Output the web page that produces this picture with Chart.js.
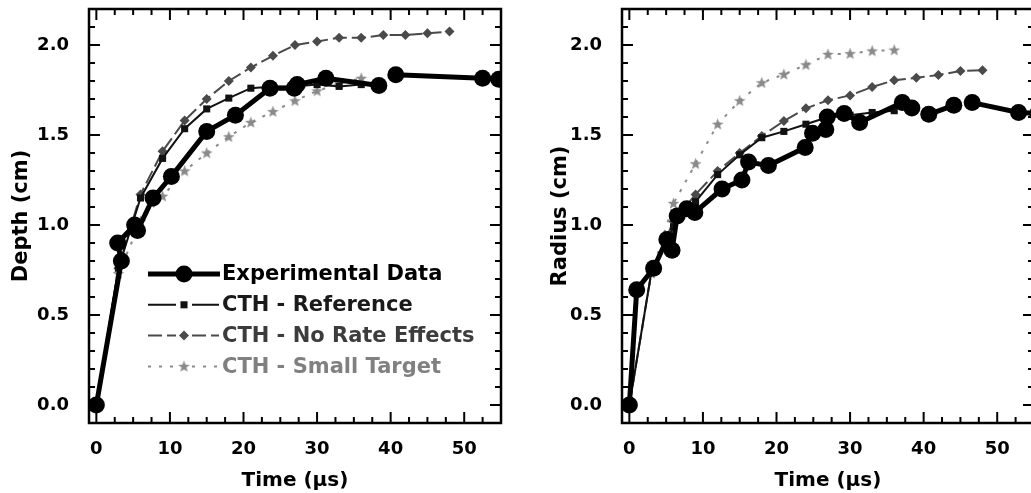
<!DOCTYPE html>
<html>
<head>
<meta charset="utf-8">
<script src="https://cdn.jsdelivr.net/npm/chart.js@4.4.1/dist/chart.umd.min.js"></script>
<style>
html,body{margin:0;padding:0;background:#fff;overflow:hidden;width:1031px;height:493px}
#wrapL{position:absolute;left:0;top:0;width:515px;height:493px}
#wrapR{position:absolute;left:515px;top:0;width:530px;height:493px}
</style>
</head>
<body>
<div id="wrapL"><canvas id="depthChart"></canvas></div>
<div id="wrapR"><canvas id="radiusChart"></canvas></div>
<script>
// series names
const seriesNames = ['Experimental Data', 'CTH - Reference', 'CTH - No Rate Effects', 'CTH - Small Target'];

// CTH output times (us)
const cthTime = [0, 3, 6, 9, 12, 15, 18, 21, 24, 27, 30, 33, 36, 39, 42, 45, 48];

// depth (cm) - null = break in the measured line
const depthExpTime  = [0, 3.4, 2.9, 5.2, 5.6, 7.7, 10.2, 15.0, 18.9, 23.6, 26.9, 27.3, 31.2, 38.4, 39.6, 40.7, 52.5, 54.7];
const depthExpValue = [0, 0.80, 0.90, 1.00, 0.97, 1.15, 1.27, 1.52, 1.61, 1.76, 1.76, 1.78, 1.815, 1.775, null, 1.835, 1.815, 1.81];
const depthRef      = [0, 0.76, 1.15, 1.37, 1.535, 1.645, 1.705, 1.76, 1.77, 1.77, 1.78, 1.77, 1.78];
const depthNoRate   = [0, 0.76, 1.17, 1.41, 1.58, 1.70, 1.80, 1.875, 1.94, 2.0, 2.02, 2.04, 2.04, 2.055, 2.055, 2.065, 2.075];
const depthSmall    = [0, 0.73, 1.02, 1.16, 1.30, 1.40, 1.49, 1.57, 1.63, 1.69, 1.745, 1.785, 1.815];

// radius (cm)
const radiusExpTime  = [0, 1.0, 3.3, 5.1, 5.8, 6.5, 7.8, 8.9, 12.6, 15.3, 16.2, 18.9, 23.9, 24.9, 26.7, 26.9, 29.2, 31.3, 37.1, 38.4, 39.5, 40.7, 44.1, 45.3, 46.6, 52.9, 55.5];
const radiusExpValue = [0, 0.64, 0.76, 0.92, 0.86, 1.05, 1.09, 1.07, 1.20, 1.25, 1.35, 1.33, 1.43, 1.51, 1.53, 1.60, 1.62, 1.57, 1.68, 1.65, null, 1.615, 1.665, null, 1.68, 1.625, 1.62];
const radiusRef      = [0, 0.74, 0.99, 1.13, 1.28, 1.39, 1.485, 1.52, 1.56, 1.60, 1.61, 1.625, 1.635];
const radiusNoRate   = [0, 0.74, 1.02, 1.17, 1.30, 1.40, 1.495, 1.578, 1.648, 1.693, 1.72, 1.767, 1.804, 1.818, 1.833, 1.856, 1.86];
const radiusSmall    = [0, 0.73, 1.12, 1.34, 1.56, 1.69, 1.79, 1.837, 1.89, 1.948, 1.952, 1.967, 1.972];

// axis ticks
const xTickValues = [0, 10, 20, 30, 40, 50];
const yTickValues = [0, 0.5, 1.0, 1.5, 2.0];

Chart.defaults.font.family = '"DejaVu Sans", sans-serif';
Chart.defaults.font.weight = 'bold';
Chart.defaults.color = '#000';

// filled star marker for the small target runs
function starMarker(color){
  const c = document.createElement('canvas');
  c.width = 13; c.height = 13;
  const g = c.getContext('2d');
  g.fillStyle = color;
  g.beginPath();
  for(let i=0;i<10;i++){
    const r = i%2 ? 2.6 : 6.2;
    const a = -Math.PI/2 + i*Math.PI/5;
    g.lineTo(6.5 + r*Math.cos(a), 6.8 + r*Math.sin(a));
  }
  g.closePath(); g.fill();
  return c;
}
const star = starMarker('#8a8a8a');

const pts = (xs, ys) => ys.map((v,i)=>({x: xs[i], y: v}));

function buildDatasets(expT, expV, ref, noRate, small){
  return [
    {label: seriesNames[0], data: pts(expT, expV), borderColor:'#000', backgroundColor:'#000', borderWidth:5,
     pointStyle:'circle', pointRadius:8.5, pointBorderWidth:0, spanGaps:false},
    {label: seriesNames[1], data: pts(cthTime, ref), borderColor:'#111', backgroundColor:'#111', borderWidth:2,
     pointStyle:'rect', pointRadius:5, pointBorderWidth:0},
    {label: seriesNames[2], data: pts(cthTime, noRate), borderColor:'#4a4a4a', backgroundColor:'#4a4a4a', borderWidth:2,
     borderDash:[14,5], pointStyle:'rectRot', pointRadius:5, pointBorderWidth:0},
    {label: seriesNames[3], data: pts(cthTime, small), borderColor:'#8a8a8a', backgroundColor:'#8a8a8a', borderWidth:2,
     borderDash:[3,8], pointStyle: star, pointRadius:6, pointBorderWidth:0}
  ];
}

// boxed frame with inward major/minor ticks on all four sides
const frameTicks = {
  id: 'frameTicks',
  afterDatasetsDraw(chart){
    const {ctx, chartArea:a, scales:{x, y}} = chart;
    ctx.save();
    ctx.strokeStyle = '#000';
    ctx.lineWidth = 2;
    ctx.beginPath();
    for(let i=0;i*2.5<=x.max;i++){
      const v = i*2.5, px = x.getPixelForValue(v);
      if(px <= a.left+1 || px >= a.right-1) continue;
      const len = (v%10===0) ? 11 : 6;
      ctx.moveTo(px, a.bottom); ctx.lineTo(px, a.bottom-len);
      ctx.moveTo(px, a.top); ctx.lineTo(px, a.top+len);
    }
    for(let i=0;i*0.1<=y.max+1e-9;i++){
      const v = i*0.1, py = y.getPixelForValue(v);
      if(py <= a.top+1 || py >= a.bottom-1) continue;
      const len = (i%5===0) ? 11 : 6;
      ctx.moveTo(a.left, py); ctx.lineTo(a.left+len, py);
      ctx.moveTo(a.right, py); ctx.lineTo(a.right-len, py);
    }
    ctx.stroke();
    ctx.lineWidth = 2.5;
    ctx.strokeRect(a.left, a.top, a.right-a.left, a.bottom-a.top);
    ctx.restore();
  }
};

// legend drawn inside the depth plot
const insideLegend = {
  id: 'insideLegend',
  afterDraw(chart, args, opts){
    if(!opts.show) return;
    const ctx = chart.ctx;
    chart.data.datasets.forEach((ds, i)=>{
      const y = opts.y0 + i*opts.dy;
      ctx.save();
      ctx.strokeStyle = ds.borderColor;
      ctx.fillStyle = ds.backgroundColor;
      ctx.lineWidth = ds.borderWidth;
      ctx.setLineDash(ds.borderDash || []);
      ctx.beginPath();
      if(i===0){ ctx.moveTo(148,y); ctx.lineTo(220,y); }
      else { ctx.moveTo(148,y); ctx.lineTo(176,y); ctx.moveTo(192,y); ctx.lineTo(219,y); }
      ctx.stroke();
      ctx.setLineDash([]);
      Chart.helpers.drawPoint(ctx, {pointStyle: ds.pointStyle, radius: ds.pointRadius, borderWidth:0, rotation:0}, 184, y);
      ctx.font = 'bold 21px "DejaVu Sans"';
      ctx.textBaseline = 'middle';
      ctx.fillStyle = opts.colors[i];
      ctx.fillText(ds.label, 222, y+1);
      ctx.restore();
    });
  }
};

function makeChart(id, datasets, yTitle, yWidth, yTitlePad, padRight, showLegend){
  return new Chart(document.getElementById(id), {
    type: 'line',
    data: {datasets},
    plugins: [frameTicks, insideLegend],
    options: {
      responsive: true, maintainAspectRatio: false, animation: false, events: [],
      layout: {padding: {left: 0, right: padRight, top: 9, bottom: 0}},
      plugins: {
        legend: {display: false}, tooltip: {enabled: false},
        insideLegend: {show: showLegend, y0: 274, dy: 30.8, colors: ['#000', '#1a1a1a', '#3c3c3c', '#808080']}
      },
      scales: {
        x: {
          type: 'linear', min: -1, max: 55,
          afterBuildTicks: s => { s.ticks = xTickValues.map(v=>({value:v})); },
          afterFit: s => { s.height = 70; s.paddingLeft = 0; s.paddingRight = 0; },
          grid: {display: false}, border: {display: false},
          ticks: {font: {size: 18}, padding: 8, maxRotation: 0, autoSkip: false, callback: v => String(v)},
          title: {display: true, text: 'Time (\u03bcs)', font: {size: 20, weight: 'bold'}, padding: {top: 1, bottom: 0}}
        },
        y: {
          type: 'linear', min: -0.1, max: 2.2,
          afterBuildTicks: s => { s.ticks = yTickValues.map(v=>({value:v})); },
          afterFit: s => { s.width = yWidth; s.paddingTop = 0; s.paddingBottom = 0; },
          grid: {display: false}, border: {display: false},
          ticks: {font: {size: 18}, padding: 12, callback: v => Number(v).toFixed(1)},
          title: {display: true, text: yTitle, font: {size: 21, weight: 'bold'}, padding: {top: yTitlePad, bottom: 0}}
        }
      }
    }
  });
}

makeChart('depthChart', buildDatasets(depthExpTime, depthExpValue, depthRef, depthNoRate, depthSmall), 'Depth (cm)', 89, 9.4, 14, true);
makeChart('radiusChart', buildDatasets(radiusExpTime, radiusExpValue, radiusRef, radiusNoRate, radiusSmall), 'Radius (cm)', 107, 33.4, 11, false);
</script>
</body>
</html>
